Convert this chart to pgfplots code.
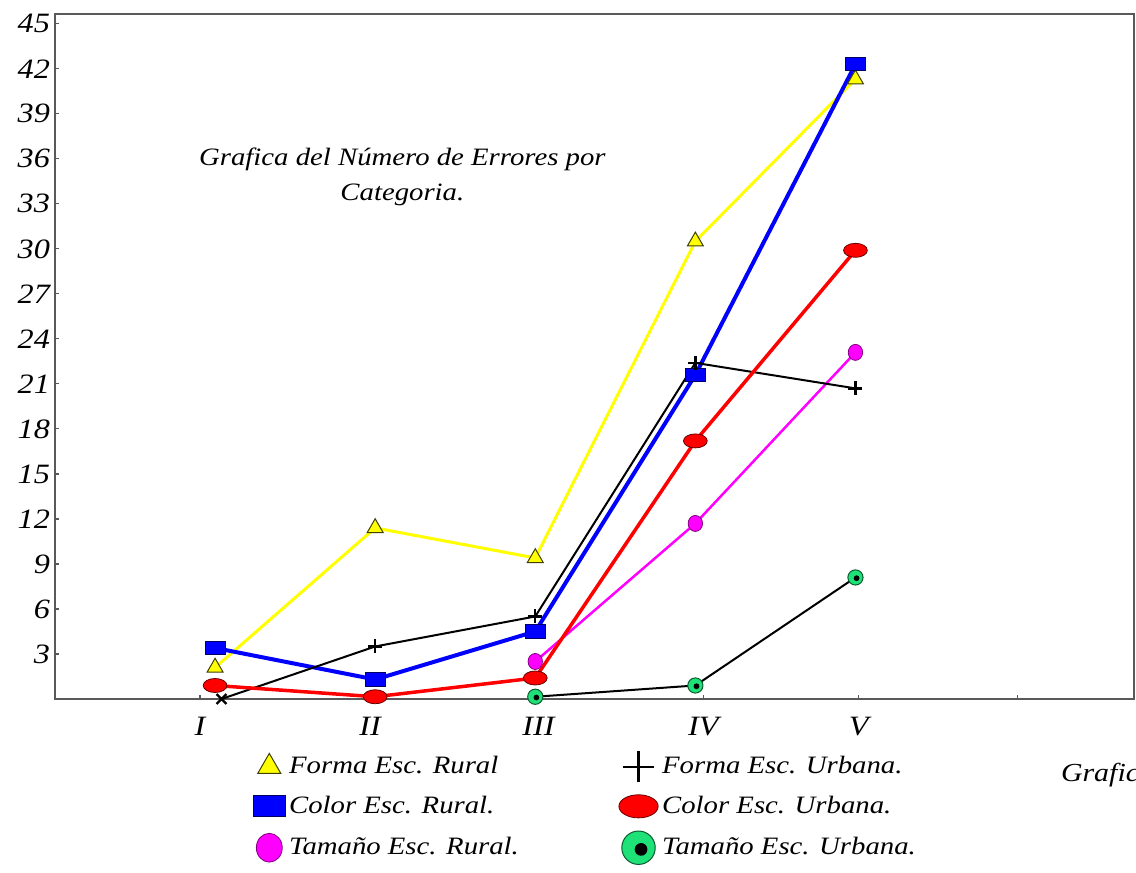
\documentclass[border=0pt]{standalone}
\usepackage{fontspec}
\setmainfont{Liberation Serif}[FakeStretch=1.15]
\usepackage{pgfplots}
\pgfplotsset{compat=1.18}
\definecolor{mgreen}{RGB}{30,225,120}
\definecolor{myel}{RGB}{255,255,0}
\definecolor{mmag}{RGB}{255,0,255}
\definecolor{mblue}{RGB}{0,0,255}
\definecolor{mred}{RGB}{255,0,0}
\pgfdeclareplotmark{gdot}{%
  \pgfpathcircle{\pgfpointorigin}{\pgfplotmarksize}%
  \pgfsetfillcolor{mgreen}\pgfusepath{fill,stroke}%
  \pgfpathcircle{\pgfpoint{0.15\pgfplotmarksize}{-0.1\pgfplotmarksize}}{0.38\pgfplotmarksize}%
  \pgfsetfillcolor{black}\pgfusepath{fill}}
\pgfplotsset{mylegend/.style={legend image code/.code={\draw[##1, only marks, every mark/.append style={scale=#1}] plot coordinates {(0.3cm,0cm)};}}}
\begin{document}
\begin{tikzpicture}
\begin{axis}[
  scale only axis, width=539.5pt, height=342.5pt,
  xmin=0, xmax=6.74, ymin=0, ymax=45.65,
  clip=false,
  axis line style={draw=black!65, line width=0.9pt},
  tick style={draw=black!65, line width=0.6pt},
  tick align=inside, major tick length=2pt,
  xtick={0.906,1.969,3.02,4.05,5.02,6.01}, xticklabels={I,II,III,IV,V,{}},
  xtick pos=bottom, ytick pos=left,
  ytick={3,6,...,45},
  ticklabel style={font=\fontsize{14}{16}\selectfont\itshape},
  /pgf/number format/assume math mode=true,
  xticklabel style={yshift=-5.5pt},
  yticklabel style={xshift=1pt},
  legend columns=3, transpose legend,
  legend style={at={(axis description cs:0.178,-0.07)}, anchor=north west, draw=none, fill=none,
    font=\fontsize{12.5}{15}\selectfont\itshape, row sep=5pt,
    /tikz/column 2/.style={column sep=48pt}},
  legend cell align=left,
]
\addplot[color=myel, line width=1.5pt, mark=triangle*, mark size=4.6pt,
  mark options={fill=myel, draw=black!75!myel, line width=0.5pt}, mylegend=1.45]
  coordinates {(1,2.1)(2,11.4)(3,9.4)(4,30.5)(5,41.3)};
\addlegendentry{Forma Esc. Rural}
\addplot[color=mblue, line width=2pt, mark=square*, mark size=3.3pt,
  mark options={xscale=1.5, fill=mblue, draw=black!60!mblue, line width=0.4pt}, mylegend=1.6]
  coordinates {(1,3.4)(2,1.3)(3,4.5)(4,21.6)(5,42.3)};
\addlegendentry{Color Esc. Rural.}
\addplot[color=mmag, line width=1.25pt, mark=*, mark size=4pt,
  mark options={xscale=0.9, fill=mmag, draw=black!50!mmag, line width=0.4pt}, mylegend=1.8]
  coordinates {(3,2.5)(4,11.7)(5,23.1)};
\addlegendentry{Tamaño Esc. Rural.}
\addplot[color=black, line width=1pt, forget plot]
  coordinates {(1.04,0)(2,3.5)(3,5.5)(4,22.4)(5,20.7)};
\addplot[color=black, only marks, mark=+, mark size=3.5pt, mark options={line width=1.2pt}, mylegend=2.2]
  coordinates {(2,3.5)(3,5.5)(4,22.4)(5,20.7)};
\addlegendentry{Forma Esc. Urbana.}
\addplot[color=black, only marks, mark=x, mark size=3.5pt, mark options={line width=1.2pt}, forget plot]
  coordinates {(1.04,0)};
\addplot[color=mred, line width=1.75pt, mark=*, mark size=3.5pt,
  mark options={xscale=1.7, fill=mred, draw=black!60!mred, line width=0.4pt}, mylegend=1.65]
  coordinates {(1,0.9)(2,0.15)(3,1.4)(4,17.2)(5,29.9)};
\addlegendentry{Color Esc. Urbana.}
\addplot[color=black, line width=1pt, mark=gdot, mark size=3.8pt,
  mark options={draw=black!60!mgreen, line width=0.5pt}, mylegend=2.2]
  coordinates {(3,0.15)(4,0.9)(5,8.1)};
\addlegendentry{Tamaño Esc. Urbana.}
\node[font=\fontsize{12.5}{17.5}\selectfont\itshape, align=center] at (axis cs:2.17,34.8)
  {Grafica del Número de Errores por\\Categoria.};
\node[anchor=west, font=\fontsize{13}{15}\selectfont\itshape] at (axis cs:6.24,-5.07) {Grafica II.};
\end{axis}
\pgfresetboundingbox
\useasboundingbox (-27.5pt,-87pt) rectangle (540.5pt,349.5pt);
\end{tikzpicture}
\end{document}
